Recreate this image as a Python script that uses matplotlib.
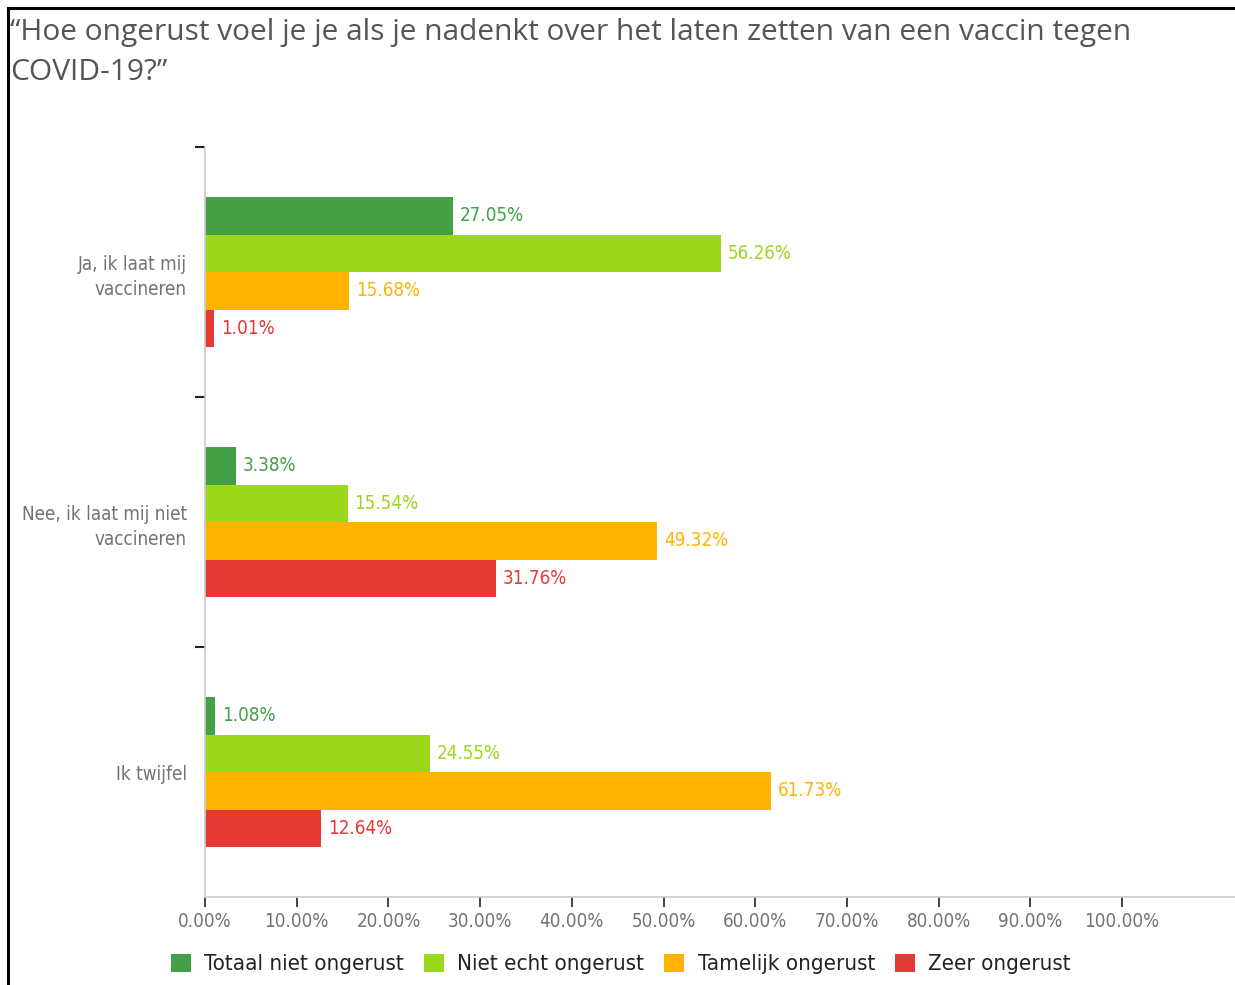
import numpy as np
import matplotlib.pyplot as plt
from matplotlib.lines import Line2D

groups = ["Ja, ik laat mij\nvaccineren", "Nee, ik laat mij niet\nvaccineren", "Ik twijfel"]
series = ["Totaal niet ongerust", "Niet echt ongerust", "Tamelijk ongerust", "Zeer ongerust"]
totaal_niet = [27.05, 3.38, 1.08]
niet_echt = [56.26, 15.54, 24.55]
tamelijk = [15.68, 49.32, 61.73]
zeer = [1.01, 31.76, 12.64]
xticks = [0, 10, 20, 30, 40, 50, 60, 70, 80, 90, 100]
colors = ["#43a047", "#9bd81b", "#ffb300", "#e53935"]

plt.rcParams['font.family'] = ['DejaVu Sans']
plt.rcParams['font.stretch'] = 'condensed'

fig = plt.figure(figsize=(12.35, 9.85), dpi=100)
ax = fig.add_axes([205/1235, 88/985, 1030/1235, 750/985])

values = [totaal_niet, niet_echt, tamelijk, zeer]
y = np.arange(len(groups))
h = 0.15
offs = [-1.5*h, -0.5*h, 0.5*h, 1.5*h]
for vals, c, o, name in zip(values, colors, offs, series):
    bars = ax.barh(y + o, vals, height=h, color=c, label=name)
    for b, v in zip(bars, vals):
        ax.text(v + 0.75, b.get_y() + h/2, "{:.2f}%".format(v), color=c,
                va='center', ha='left', fontsize=13.5)

ax.set_xlim(0, 112.3)
ax.set_ylim(2.5, -0.5)
ax.set_xticks(xticks)
ax.set_xticklabels(["{:.2f}%".format(t) for t in xticks], color="#737373", fontsize=13.5)
ax.tick_params(axis='x', length=7, width=1.2, color='#222', pad=4)
ax.set_yticks([-0.5, 0.5, 1.5])
ax.set_yticklabels([])
ax.tick_params(axis='y', length=7, width=1.5, color='#222')
ax.set_yticks(y, minor=True)
ax.set_yticklabels(groups, minor=True, color="#737373", fontsize=13.5, linespacing=1.4)
ax.tick_params(axis='y', which='minor', length=0, pad=13)
for s in ['top', 'right']:
    ax.spines[s].set_visible(False)
for s in ['left', 'bottom']:
    ax.spines[s].set_color('#cccccc')
    ax.spines[s].set_linewidth(1.2)

fig.text(10/1235, 1 - 18/985,
         "\u201cHoe ongerust voel je je als je nadenkt over het laten zetten van een vaccin tegen\nCOVID-19?\u201d",
         family=['Open Sans', 'DejaVu Sans'], stretch='normal', fontsize=21.5, color='#555555',
         ha='left', va='top', linespacing=1.5)

fig.legend(loc='center', bbox_to_anchor=(621/1235, 1 - 964/985), ncol=4, frameon=False,
           fontsize=16, handlelength=0.9, handleheight=0.9, handletextpad=0.6,
           columnspacing=0.9, labelcolor='#222222')

# frame lines of the screenshot
fig.add_artist(Line2D([8/1235, 8/1235], [0, 1 - 8/985], color='black', lw=2.2))
fig.add_artist(Line2D([8/1235, 1], [1 - 8/985, 1 - 8/985], color='black', lw=2.2))

fig.savefig("out.png", dpi=100)
